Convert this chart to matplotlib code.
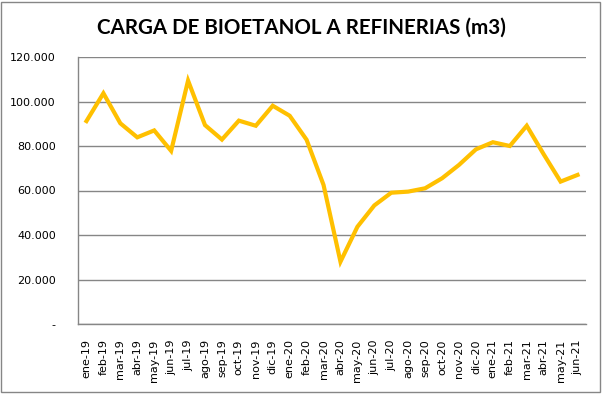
import matplotlib
matplotlib.use('Agg')
import matplotlib.pyplot as plt
from matplotlib.patches import Rectangle
from matplotlib.ticker import FuncFormatter

# Meses (ene-19 .. jun-21)
meses = ['ene-19', 'feb-19', 'mar-19', 'abr-19', 'may-19', 'jun-19', 'jul-19', 'ago-19',
         'sep-19', 'oct-19', 'nov-19', 'dic-19', 'ene-20', 'feb-20', 'mar-20', 'abr-20',
         'may-20', 'jun-20', 'jul-20', 'ago-20', 'sep-20', 'oct-20', 'nov-20', 'dic-20',
         'ene-21', 'feb-21', 'mar-21', 'abr-21', 'may-21', 'jun-21']

# Carga de bioetanol (m3)
carga = [91200, 103700, 90200, 83900, 87000, 77800, 109400, 89400,
         82900, 91400, 89100, 98100, 93600, 82800, 62500, 28000,
         43700, 53300, 59000, 59500, 61000, 65500, 71500, 78500,
         81700, 80000, 89100, 76300, 64000, 67000]

y_ticks = [0, 20000, 40000, 60000, 80000, 100000, 120000]

fig = plt.figure(figsize=(6.02, 3.94), dpi=100)
ax = fig.add_axes([78/602, 70/394, 508/602, 267/394])

x = list(range(len(meses)))
ax.plot(x, carga, color='#FFC000', linewidth=3, solid_joinstyle='miter')

ax.set_xlim(-0.5, len(meses) - 0.5)
ax.set_ylim(0, 120000)
ax.set_yticks(y_ticks)

def fmt_miles(v, pos):
    if v == 0:
        return '-'
    return f'{int(v):,}'.replace(',', '.')

ax.yaxis.set_major_formatter(FuncFormatter(fmt_miles))
ax.set_xticks(x)
ax.set_xticklabels(meses, rotation=90)
ax.tick_params(axis='both', length=0, labelsize=8, colors='black')
ax.tick_params(axis='y', pad=16)
ax.tick_params(axis='x', pad=11)

ax.grid(axis='y', color='#868686', linewidth=1)
ax.set_axisbelow(True)
for s in ['top', 'right']:
    ax.spines[s].set_visible(False)
for s in ['left', 'bottom']:
    ax.spines[s].set_color('#868686')
    ax.spines[s].set_linewidth(1)

fig.text(0.5, 1 - 28/394, 'CARGA DE BIOETANOL A REFINERIAS (m3)', ha='center', va='center',
         fontsize=14.8, fontweight='bold', family='Lato')

# borde exterior del gráfico
fig.patches.append(Rectangle((1/602, 2/394), 599/602, 390/394, transform=fig.transFigure,
                             fill=False, edgecolor='#868686', linewidth=1))

fig.savefig('out.png', dpi=100)
